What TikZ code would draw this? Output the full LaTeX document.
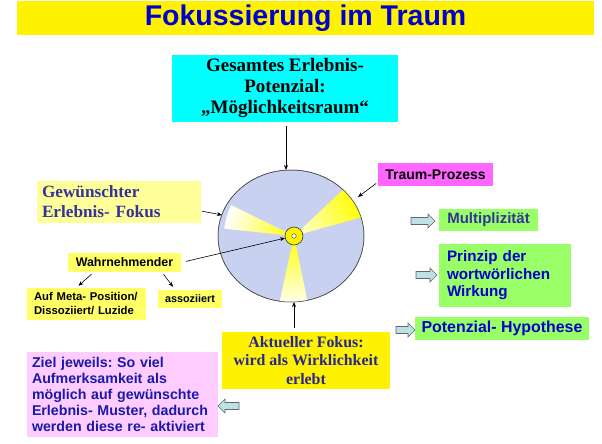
\documentclass[tikz,border=0pt]{standalone}
\usepackage{fontspec}
\setmainfont{Liberation Sans}
\newfontfamily\serifbf{Liberation Serif}
\usetikzlibrary{arrows.meta,shapes.geometric}
\frenchspacing
\definecolor{titleblue}{RGB}{0,0,205}
\definecolor{navy}{RGB}{51,51,153}
\definecolor{navyb}{RGB}{40,40,140}
\definecolor{tblue}{RGB}{0,0,200}
\definecolor{zblue}{RGB}{25,25,170}
\definecolor{cyanbox}{RGB}{0,255,255}
\definecolor{magbox}{RGB}{255,102,255}
\definecolor{lyellow}{RGB}{255,255,153}
\definecolor{myellow}{RGB}{255,255,102}
\definecolor{gbox}{RGB}{153,255,102}
\definecolor{pinkbox}{RGB}{255,204,255}
\definecolor{discfill}{RGB}{200,210,240}
\definecolor{harrowfill}{RGB}{190,225,230}
\definecolor{wpale}{RGB}{255,255,225}
\tikzset{
  box/.style={inner sep=0pt, align=center},
  arr/.style={-{Stealth[length=5pt,width=4pt]}, line width=0.6pt, black},
  harrowd/.style={draw=black!60, fill=harrowfill, line width=0.6pt, line join=miter},
  pics/hollowarrow/.style={code={
    \path[harrowd] (0,-3.5) -- (#1-7,-3.5) -- (#1-7,-7) -- (#1,0) -- (#1-7,7) -- (#1-7,3.5) -- (0,3.5) -- cycle;
  }},
}
\begin{document}
\begin{tikzpicture}[x=1pt,y=-1pt]
\useasboundingbox (0,0) rectangle (602,444);
\fill[white] (0,0) rectangle (602,444);
% title
\node[box, fill=yellow, minimum width=577, minimum height=34, text=titleblue,
  font=\fontsize{28.5}{30}\selectfont\bfseries] (title) at (305.5,18) {Fokussierung im Traum};
% cyan box
\node[box, fill=cyanbox, minimum width=226, minimum height=67,
  font=\serifbf\fontsize{19}{21}\selectfont\bfseries] (cyan) at (285,88.5)
  {Gesamtes Erlebnis-\\Potenzial:\\„Möglichkeitsraum“};
% disc
\node[ellipse, draw=black!70, line width=0.5pt, fill=discfill, minimum width=146, minimum height=132, inner sep=0pt] (disc) at (291,236) {};
\begin{scope}
  \clip (291,236) ellipse [x radius=73, y radius=66];
  \begin{scope}
    \clip (294,236) -- (160,170) -- (142,220) -- cycle;
    \shade[inner color=yellow, outer color=white] (294,236) circle [radius=70];
  \end{scope}
  \begin{scope}
    \clip (294,236) -- (396,140) -- (430,198) -- cycle;
    \shade[inner color=wpale, outer color=yellow] (294,236) circle [radius=72];
  \end{scope}
  \begin{scope}
    \clip (294,236) -- (266,364) -- (320,362) -- cycle;
    \shade[inner color=yellow, outer color=white] (294,236) circle [radius=72];
  \end{scope}
\end{scope}
\draw[black!70, line width=0.5pt] (291,236) ellipse [x radius=73, y radius=66];
\node[circle, draw=black!80, line width=0.6pt, fill=yellow, minimum size=18, inner sep=0pt] (ic) at (294,236) {};
\node[circle, draw=black!80, line width=0.4pt, fill=white, minimum size=4.5, inner sep=0pt] (icc) at (294,236) {};
\coordinate (eTop) at (286,170);
\coordinate (eBot) at (294,302);
\coordinate (tpTip) at (358,197);
\coordinate (gTip) at (222,215);
% labels
\node[box, fill=magbox, minimum width=115, minimum height=23,
  font=\fontsize{14}{16}\selectfont\bfseries] (traum) at (435.5,174.5) {Traum-Prozess};
\node[box, fill=lyellow, minimum width=164, minimum height=42, text width=154, align=left, text=navy,
  font=\serifbf\fontsize{17.2}{20}\selectfont\bfseries] (gew) at (119,202)
  {Gewünschter\\Erlebnis- Fokus};
\node[box, fill=myellow, minimum width=113, minimum height=19,
  font=\fontsize{12.4}{14}\selectfont\bfseries] (wahr) at (124.5,262.5) {Wahrnehmender};
\node[box, fill=myellow, minimum width=119, minimum height=32, text width=105, align=left,
  font=\fontsize{11.3}{14}\selectfont\bfseries] (auf) at (86.5,304)
  {Auf Meta- Position/\\Dissoziiert/ Luzide};
\node[box, fill=myellow, minimum width=64, minimum height=18,
  font=\fontsize{10.8}{12}\selectfont\bfseries] (asso) at (190,299) {assoziiert};
\node[box, fill=gbox, minimum width=99, minimum height=22, text=navy,
  font=\fontsize{15}{17}\selectfont\bfseries] (multi) at (488.5,220) {Multiplizität};
\node[box, fill=gbox, minimum width=132, minimum height=63, text width=116, align=left, text=tblue,
  font=\fontsize{15.2}{17.5}\selectfont\bfseries] (prinz) at (505,275.5)
  {Prinzip der\\wortwörlichen\\Wirkung};
\node[box, fill=gbox, minimum width=174, minimum height=23, text=tblue,
  font=\fontsize{15.9}{18}\selectfont\bfseries] (pot) at (502,328.5) {Potenzial- Hypothese};
\node[box, fill=yellow, minimum width=168, minimum height=57, text=navyb,
  font=\serifbf\fontsize{15.9}{18.5}\selectfont\bfseries] (akt) at (306,360.5)
  {Aktueller Fokus:\\wird als Wirklichkeit\\erlebt};
\node[box, fill=pinkbox, minimum width=191, minimum height=85, text width=181, align=left, text=zblue,
  font=\fontsize{14.2}{16}\selectfont\bfseries] (ziel) at (122.5,394.5)
  {Ziel jeweils: So viel\\Aufmerksamkeit als\\möglich auf gewünschte\\Erlebnis- Muster, dadurch\\werden diese re- aktiviert};
% hollow block arrows
\pic (ha1) at (411,221) {hollowarrow=24};
\pic (ha2) at (416,275) {hollowarrow=21};
\pic (ha3) at (396,330) {hollowarrow=19};
\pic[xscale=-1] (ha4) at (239,406) {hollowarrow=21};
% connectors
\draw[arr, shorten <=4pt] (cyan.south -| eTop) -- (eTop);
\draw[arr, shorten <=2pt] ([yshift=4pt]traum.south west) -- (tpTip);
\draw[arr, shorten <=1pt] ([yshift=-9pt]gew.east) -- (gTip);
\draw[arr, shorten <=5pt] (wahr.east) -- (ic);
\draw[arr] ([xshift=-33pt,yshift=-2pt]wahr.south) -- ([xshift=-8pt,yshift=2pt]auf.north);
\draw[arr] ([xshift=39pt,yshift=-2pt]wahr.south) -- ([xshift=-17pt,yshift=3pt]asso.north);
\draw[arr, shorten <=4pt] (akt.north -| eBot) -- (eBot);
\end{tikzpicture}
\end{document}
